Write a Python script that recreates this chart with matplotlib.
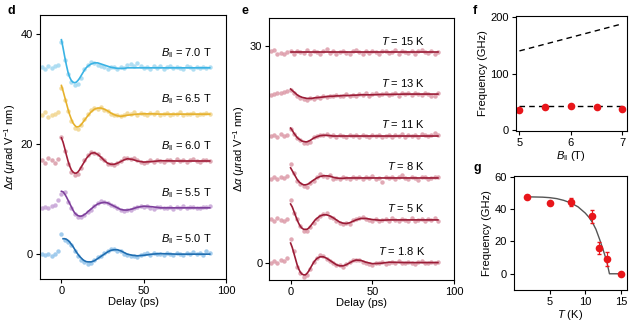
import numpy as np
import matplotlib
matplotlib.use('Agg')
import matplotlib.pyplot as plt

plt.rcParams['font.family'] = ['Liberation Sans', 'DejaVu Sans']
plt.rcParams['mathtext.fontset'] = 'custom'
plt.rcParams['mathtext.rm'] = 'Liberation Sans'
plt.rcParams['mathtext.it'] = 'Liberation Sans:italic'
plt.rcParams['font.size'] = 8
plt.rcParams['axes.linewidth'] = 0.8

nan = np.nan

# time grids (ps)
t_fit = [0, 1, 2, 3, 4, 5, 6, 7, 8, 9, 10, 11, 12, 13, 14, 15, 16,
         18, 20, 22, 24, 26, 28, 30, 32, 34, 36, 38, 40,
         43, 46, 50, 55, 60, 70, 80, 90]
t_pts = [-12, -10, -8, -6, -4, -2,
         0, 2, 4, 6, 8, 10, 12, 14, 16, 18, 20, 22, 24, 26, 28, 30, 32, 34,
         36, 38, 40, 42, 44, 46, 48, 50, 52, 54, 56, 58, 60, 62, 64, 66, 68,
         70, 72, 74, 76, 78, 80, 82, 84, 86, 88, 90]

# panel d: field dependence (values relative to each trace's offset)
fields = ['7.0', '6.5', '6.0', '5.5', '5.0']
offset_d = [33.8, 25.4, 16.9, 8.4, 0.0]
line_d = ['#3ab3e4', '#e6b12c', '#a11f3a', '#7d3f9b', '#1f6db0']
dot_d = ['#a3d9f1', '#f1d58e', '#d99aa7', '#c6a3d6', '#92c3ea']

fit_d70 = [5.1, 3.6, 2.0, 0.5, -0.8, -1.7, -2.3, -2.6, -2.7, -2.6, -2.3, -1.9, -1.4, -0.9, -0.4, 0.0, 0.3,
           0.7, 0.9, 0.9, 0.7, 0.5, 0.3, 0.1, 0.0, -0.1, -0.1, -0.1, 0.0,
           0, 0, 0, 0, 0, 0, 0, 0]
fit_d65 = [5.2, 4.2, 3.1, 2.0, 0.9, -0.1, -0.9, -1.6, -2.0, -2.3, -2.3, -2.2, -1.9, -1.5, -1.1, -0.7, -0.3,
           0.4, 0.9, 1.1, 1.1, 0.9, 0.6, 0.2, -0.1, -0.3, -0.4, -0.3, -0.2,
           -0.1, 0.0, 0.05, 0.05, 0, 0, 0, 0]
fit_d60 = [4.2, 3.4, 2.3, 1.1, 0.0, -0.9, -1.6, -2.0, -2.2, -2.2, -2.0, -1.6, -1.1, -0.6, -0.1, 0.4, 0.8,
           1.4, 1.5, 1.2, 0.7, 0.1, -0.4, -0.6, -0.6, -0.4, -0.1, 0.2, 0.4,
           0.3, 0.0, -0.2, -0.1, 0.05, 0, 0, 0]
fit_d55 = [3.0, 2.9, 2.5, 2.0, 1.4, 0.8, 0.2, -0.4, -0.9, -1.2, -1.4, -1.5, -1.5, -1.4, -1.2, -1.0, -0.7,
           -0.2, 0.3, 0.7, 0.9, 1.0, 0.9, 0.6, 0.3, 0.0, -0.3, -0.4, -0.4,
           -0.2, 0.1, 0.3, 0.2, 0.0, 0, 0, 0]
fit_d50 = [nan, 2.8, 2.8, 2.7, 2.5, 2.2, 1.8, 1.4, 0.9, 0.4, 0.0, -0.4, -0.7, -1.0, -1.2, -1.35, -1.4,
           -1.4, -1.2, -0.8, -0.4, 0.0, 0.4, 0.7, 0.8, 0.8, 0.6, 0.3, 0.0,
           -0.2, -0.3, -0.2, 0.0, 0.1, 0.0, 0, 0]

pts_d70 = [0.1, -0.2, 0.3, -0.1, 0.4, 0.6,
           4.6, 1.5, -1.2, -2.6, -3.1, -3.0, -1.8, -0.2, 0.6, 1.0, 0.8, 0.6, 0.3, 0.1, -0.2,
           0.2, 0.1, -0.3, 0.2, 0.0, 0.5, 0.7, 0.4, 0.8, 0.3, -0.1, 0.2, -0.3, 0.4, 0.0,
           0.3, -0.2, 0.1, 0.3, -0.1, 0.2, 0.0, -0.2, 0.3, 0.1, -0.3, 0.2, 0.0, 0.1, -0.1, 0.2]
pts_d65 = [-0.1, 0.3, -0.5, -0.2, 0.1, 0.3,
           4.8, 2.6, 0.5, -1.2, -2.5, -2.7, -2.0, -0.9, 0.0, 0.8, 1.2, 1.0, 1.3, 0.7, 0.5,
           0.1, -0.2, -0.1, -0.4, -0.2, 0.2, 0.0, 0.3, -0.1, 0.2, 0.1, -0.2, 0.2, 0.0, 0.3,
           -0.1, 0.1, 0.2, -0.2, 0.0, 0.1, 0.3, -0.1, 0.1, 0.0, 0.2, -0.2, 0.1, 0.0, 0.2, 0.1]
pts_d60 = [0.2, -0.4, 0.5, 0.1, -0.3, 0.4,
           4.3, 1.9, -0.5, -2.0, -2.5, -2.3, -1.3, 0.2, 1.0, 1.6, 1.4, 1.3, 0.5, 0.2, -0.6,
           -0.5, -0.8, -0.3, 0.0, 0.5, 0.6, 0.4, 0.6, 0.1, -0.2, -0.3, -0.1, 0.1, -0.2, 0.2,
           0.0, -0.1, 0.2, 0.1, -0.2, 0.3, 0.0, 0.1, -0.1, 0.2, 0.3, 0.0, -0.1, 0.2, 0.1, 0.0]
pts_d55 = [-0.1, 0.2, 0.0, 0.3, 0.5, 1.4,
           2.6, 2.9, 1.0, -0.1, -1.1, -1.6, -1.7, -1.3, -0.8, -0.4, 0.4, 0.8, 1.2, 1.1, 0.9,
           0.5, 0.4, -0.1, -0.4, -0.5, -0.3, -0.3, 0.0, 0.2, 0.4, 0.2, 0.3, 0.0, -0.2, 0.1,
           0.2, -0.1, 0.0, 0.2, -0.2, 0.1, 0.0, 0.3, -0.1, 0.1, 0.2, -0.1, 0.0, 0.2, 0.1, 0.3]
pts_d50 = [0.1, -0.2, 0.0, -0.3, 0.1, 0.6,
           3.7, 2.6, 2.2, 1.6, 0.6, -0.3, -1.0, -1.5, -1.8, -1.6, -1.1, -0.6, -0.3, 0.3, 0.6,
           0.9, 1.0, 0.6, 0.5, 0.1, -0.2, -0.4, -0.3, -0.5, -0.2, 0.0, 0.2, -0.1, 0.3, 0.0,
           0.1, -0.2, 0.2, 0.0, -0.1, 0.3, 0.1, -0.2, 0.2, 0.0, 0.4, 0.1, 0.3, -0.1, 0.5, 0.2]

fits_d = [fit_d70, fit_d65, fit_d60, fit_d55, fit_d50]
pts_d = [pts_d70, pts_d65, pts_d60, pts_d55, pts_d50]

# panel e: temperature dependence
temps = ['15', '13', '11', '8', '5', '1.8']
offset_e = [29.2, 23.4, 17.6, 11.8, 6.0, 0.1]

fit_e15 = [0, 0, 0, 0, 0, 0, 0, 0, 0, 0, 0, 0, 0, 0, 0, 0, 0,
           0, 0, 0, 0, 0, 0, 0, 0, 0, 0, 0, 0,
           0, 0, 0, 0, 0, 0, 0, 0]
fit_e13 = [0.7, 0.5, 0.3, 0.1, -0.1, -0.25, -0.35, -0.45, -0.5, -0.55, -0.6, -0.6, -0.6, -0.6, -0.55, -0.5, -0.5,
           -0.45, -0.4, -0.35, -0.3, -0.3, -0.25, -0.25, -0.2, -0.2, -0.2, -0.15, -0.15,
           -0.1, -0.1, -0.1, -0.05, -0.05, 0, 0, 0]
fit_e11 = [1.1, 0.8, 0.4, 0.1, -0.2, -0.4, -0.55, -0.7, -0.75, -0.8, -0.8, -0.7, -0.6, -0.45, -0.3, -0.2, -0.1,
           0.05, 0.1, 0.1, 0.05, 0, 0, 0, 0, 0, 0, 0, 0,
           0, 0, 0, 0, 0, 0, 0, 0]
fit_e8 = [1.4, 1.0, 0.6, 0.2, -0.2, -0.5, -0.7, -0.85, -0.95, -0.95, -0.9, -0.8, -0.65, -0.45, -0.3, -0.15, 0.0,
          0.2, 0.3, 0.3, 0.25, 0.1, 0.0, -0.05, -0.05, 0, 0, 0, 0,
          0, 0, 0, 0, 0, 0, 0, 0]
fit_e5 = [2.2, 1.8, 1.2, 0.6, 0.0, -0.5, -0.9, -1.15, -1.3, -1.3, -1.3, -1.15, -0.9, -0.6, -0.3, 0.0, 0.2,
          0.55, 0.7, 0.7, 0.55, 0.3, 0.0, -0.3, -0.45, -0.5, -0.4, -0.2, 0.0,
          0.2, 0.2, 0.05, -0.05, 0, 0, 0, 0]
fit_e18 = [2.7, 2.1, 1.3, 0.5, -0.3, -0.9, -1.35, -1.6, -1.7, -1.7, -1.5, -1.2, -0.8, -0.4, 0.0, 0.3, 0.55,
           0.8, 0.8, 0.6, 0.3, 0.0, -0.3, -0.45, -0.45, -0.3, -0.05, 0.2, 0.35,
           0.3, 0.05, -0.15, -0.1, 0.05, 0, 0, 0]

pts_e15 = [0.1, 0.3, -0.2, -0.1, -0.3, 0.0,
           0.1, -0.2, 0.2, 0.0, -0.1, 0.3, -0.3, 0.1, 0.0, -0.2, 0.2, 0.4, -0.1, 0.1, -0.2,
           0.0, 0.2, -0.1, -0.3, 0.1, 0.3, 0.0, -0.2, 0.1, -0.1, 0.2, 0.0, -0.3, 0.1, 0.2,
           -0.1, 0.0, 0.3, -0.2, 0.1, 0.0, -0.1, 0.2, -0.2, 0.1, 0.3, 0.0, -0.1, 0.1, -0.2, 0.0]
pts_e13 = [-0.1, 0.0, 0.2, 0.1, 0.3, 0.4,
           0.6, 0.2, -0.2, -0.5, -0.7, -0.8, -0.5, -0.7, -0.4, -0.5, -0.3, -0.4, -0.2, -0.3, -0.1,
           -0.3, -0.2, 0.0, -0.2, -0.1, -0.3, 0.0, -0.1, 0.1, -0.2, 0.0, 0.1, -0.1, 0.0, 0.2,
           -0.1, 0.0, 0.1, -0.2, 0.1, 0.0, 0.2, -0.1, 0.1, 0.0, -0.1, 0.2, 0.0, -0.2, -0.3, 0.1]
pts_e11 = [0.0, 0.2, -0.1, 0.3, 0.0, 0.2,
           1.0, 0.3, -0.3, -0.6, -0.9, -1.0, -0.8, -0.2, 0.0, 0.2, 0.1, 0.3, 0.0, 0.1, -0.1,
           0.2, 0.0, -0.2, 0.1, 0.0, 0.2, -0.1, 0.1, 0.0, -0.2, 0.2, 0.0, 0.1, -0.1, 0.0,
           0.2, -0.2, 0.1, 0.0, 0.3, -0.1, 0.1, 0.0, 0.2, -0.1, 0.3, 0.1, 0.0, 0.2, 0.4, 0.1]
pts_e8 = [-0.1, 0.1, -0.2, 0.2, 0.0, 0.3,
          2.0, 0.7, -0.4, -0.9, -1.1, -1.2, -0.7, -0.4, 0.1, 0.5, 0.3, 0.2, 0.4, -0.1, 0.0,
          -0.2, 0.1, 0.0, -0.1, 0.2, 0.0, 0.1, -0.2, 0.1, 0.0, 0.3, -0.1, 0.0, -0.5, 0.1,
          0.0, 0.2, -0.1, 0.1, 0.4, 0.0, -0.2, 0.1, 0.0, -0.3, 0.1, 0.2, -0.1, 0.0, 0.2, 0.1]
pts_e5 = [0.1, -0.1, 0.3, 0.0, -0.2, 0.1,
          2.8, 1.0, 0.1, -0.8, -1.5, -1.6, -1.0, -0.4, 0.1, 0.6, 0.8, 0.9, 0.4, 0.2, -0.1,
          -0.4, -0.6, -0.4, -0.5, 0.0, 0.1, 0.3, 0.4, 0.1, 0.0, -0.1, 0.1, -0.2, 0.0, 0.1,
          -0.1, 0.2, 0.0, -0.2, 0.1, 0.0, -0.1, 0.2, -0.1, 0.0, 0.1, -0.2, 0.1, 0.0, 0.2, -0.1]
pts_e18 = [-0.1, 0.2, 0.0, 0.4, 0.2, 0.6,
           3.2, 1.6, -0.6, -1.5, -2.0, -1.7, -0.9, 0.1, 0.6, 1.0, 0.9, 0.5, 0.2, -0.1, -0.3,
           -0.4, -0.6, -0.2, 0.1, 0.4, 0.4, 0.3, 0.1, -0.1, -0.2, -0.3, 0.0, -0.1, 0.1, -0.2,
           0.0, 0.1, -0.1, 0.2, 0.0, -0.1, 0.1, 0.0, -0.2, 0.1, 0.2, 0.0, -0.1, 0.1, 0.0, 0.1]

fits_e = [fit_e15, fit_e13, fit_e11, fit_e8, fit_e5, fit_e18]
pts_e = [pts_e15, pts_e13, pts_e11, pts_e8, pts_e5, pts_e18]
line_e = '#9a1c36'
dot_e = '#dc9aa8'

# panel f
B_f = [5.0, 5.5, 6.0, 6.5, 7.0]
freq_f = [35.5, 41.4, 43.0, 40.0, 38.0]
B_line = [5.0, 7.0]
upper_line = [140, 188]
lower_line = [42, 42]

# panel g
T_g = [1.8, 5, 8, 11, 12, 13, 15]
freq_g = [47.5, 43.5, 44.5, 35.5, 16.0, 9.0, 0.0]
err_g = [1.0, 1.0, 2.5, 4.0, 3.5, 4.5, 0.5]
T_gfit = [1.8, 3, 4, 5, 6, 7, 8, 9, 10, 10.5, 11, 11.5, 12, 12.5, 13, 13.2, 13.4, 15]
freq_gfit = [47.5, 47.4, 47.3, 47.0, 46.4, 45.3, 43.7, 41.3, 37.5, 35.0, 31.8, 27.5, 21.5, 15.0, 8.0, 4.0, 0.0, 0.0]

red = '#e8161b'
bpar = r'$B_{\Vert}$'

fig = plt.figure(figsize=(6.4, 3.24), dpi=100)
ax_d = fig.add_axes([0.0625, 0.139, 0.291, 0.815])
ax_e = fig.add_axes([0.4208, 0.136, 0.289, 0.808])
ax_f = fig.add_axes([0.806, 0.597, 0.173, 0.354])
ax_g = fig.add_axes([0.803, 0.105, 0.176, 0.353])

for ax in [ax_d, ax_e, ax_f, ax_g]:
    ax.tick_params(direction='out', length=3, width=0.8, pad=2, labelsize=8)

# d
for i in range(5):
    off = offset_d[i]
    ax_d.plot(t_pts, np.array(pts_d[i]) + off, 'o', ms=3.2, color=dot_d[i], mec='none', alpha=0.85)
    ax_d.plot(t_fit, np.array(fits_d[i]) + off, '-', lw=1.2, color=line_d[i])
    ax_d.text(91, off + 2.7, bpar + ' = ' + fields[i] + ' T', ha='right', va='center', fontsize=8)
ax_d.set_xlim(-13, 100)
ax_d.set_ylim(-4.5, 43.4)
ax_d.set_xticks([0, 50, 100])
ax_d.set_yticks([0, 20, 40])
ax_d.set_xlabel('Delay (ps)', labelpad=1)
ax_d.set_ylabel(r'$\Delta\alpha$ ($\mu$rad V$^{-1}$ nm)', labelpad=2)

# e
for i in range(6):
    off = offset_e[i]
    ax_e.plot(t_pts, np.array(pts_e[i]) + off, 'o', ms=3.2, color=dot_e, mec='none', alpha=0.85)
    ax_e.plot(t_fit, np.array(fits_e[i]) + off, '-', lw=1.2, color=line_e)
    ax_e.text(82, off + 1.6, r'$T$ = ' + temps[i] + ' K', ha='right', va='center', fontsize=8)
ax_e.set_xlim(-13, 100)
ax_e.set_ylim(-2.3, 33.9)
ax_e.set_xticks([0, 50, 100])
ax_e.set_yticks([0, 30])
ax_e.set_xlabel('Delay (ps)', labelpad=1)
ax_e.set_ylabel(r'$\Delta\alpha$ ($\mu$rad V$^{-1}$ nm)', labelpad=2)

# f
ax_f.plot(B_line, upper_line, '--', color='k', lw=1.0, dashes=(4, 3))
ax_f.plot(B_line, lower_line, '--', color='k', lw=1.0, dashes=(4, 3))
ax_f.plot(B_f, freq_f, 'o', color=red, ms=5.5, mec='none')
ax_f.set_xlim(4.93, 7.08)
ax_f.set_ylim(-1, 202)
ax_f.set_xticks([5, 6, 7])
ax_f.set_yticks([0, 100, 200])
ax_f.set_xlabel(bpar + ' (T)', labelpad=1)
ax_f.set_ylabel('Frequency (GHz)', labelpad=2)

# g
ax_g.plot(T_gfit, freq_gfit, '-', color='#555555', lw=1.0)
ax_g.errorbar(T_g, freq_g, yerr=err_g, fmt='o', color=red, ms=5.5, mec='none',
              ecolor=red, elinewidth=0.8, capsize=1.5)
ax_g.set_xlim(0, 15.8)
ax_g.set_ylim(-10, 60.6)
ax_g.set_xticks([5, 10, 15])
ax_g.set_yticks([0, 20, 40, 60])
ax_g.set_xlabel(r'$T$ (K)', labelpad=1)
ax_g.set_ylabel('Frequency (GHz)', labelpad=2)

for lbl, x, y in [('d', 0.012, 0.965), ('e', 0.377, 0.965), ('f', 0.738, 0.965), ('g', 0.74, 0.48)]:
    fig.text(x, y, lbl, fontsize=9, fontweight='bold', ha='left', va='center')

fig.savefig('out.png', dpi=100)
